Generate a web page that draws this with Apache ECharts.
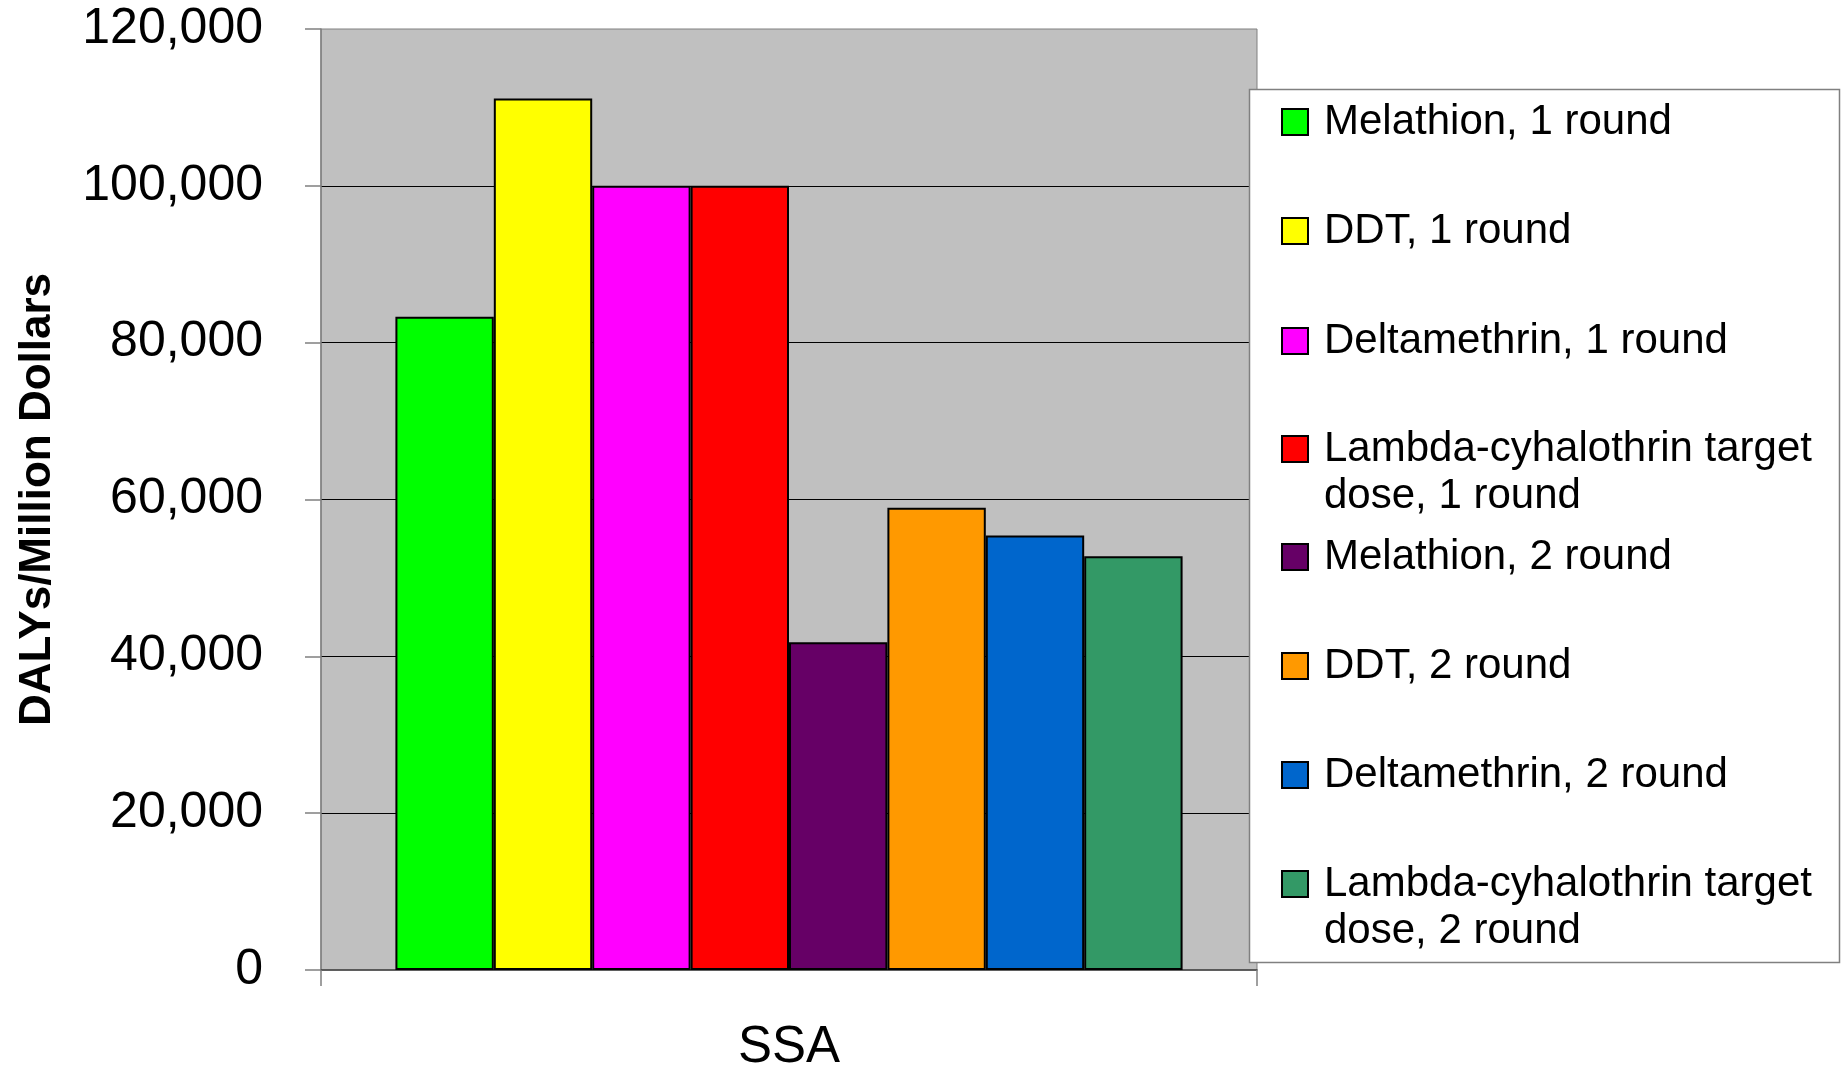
<!DOCTYPE html>
<html>
<head>
<meta charset="utf-8">
<script src="https://cdn.jsdelivr.net/npm/echarts@6/dist/echarts.min.js"></script>
<style>
html,body{margin:0;padding:0;background:#fff;}
#c{width:1843px;height:1068px;}
</style>
</head>
<body>
<div id="c"></div>
<script>
// ---- data ----
const categories = ['SSA'];
const seriesNames = [
  'Melathion, 1 round',
  'DDT, 1 round',
  'Deltamethrin, 1 round',
  'Lambda-cyhalothrin target\ndose, 1 round',
  'Melathion, 2 round',
  'DDT, 2 round',
  'Deltamethrin, 2 round',
  'Lambda-cyhalothrin target\ndose, 2 round'
];
const seriesValues = [83300, 111150, 100000, 100000, 41800, 58950, 55400, 52750];
const yTicks = [0, 20000, 40000, 60000, 80000, 100000, 120000];
const yAxisTitle = 'DALYs/Million Dollars';

// ---- styles ----
const colors = ['#00FF00', '#FFFF00', '#FF00FF', '#FF0000', '#660066', '#FF9900', '#0066CC', '#339966'];
const FONT = 'Arial, "Liberation Sans", sans-serif';
const legendCenters = [122, 231, 341, 449, 557, 666, 775, 884];

const chart = echarts.init(document.getElementById('c'), null, {renderer: 'canvas'});

const series = seriesNames.map((name, i) => ({
  name: name,
  type: 'bar',
  data: [seriesValues[i]],
  barGap: '0%',
  barCategoryGap: '15.9%',
  itemStyle: {color: colors[i], borderColor: '#000', borderWidth: 2},
  emphasis: {disabled: true},
  animation: false
}));

const legends = seriesNames.map((name, i) => {
  const wrapped = name.indexOf('\n') >= 0;
  return {
    show: true,
    orient: 'vertical',
    data: [name],
    left: 1281,
    top: wrapped ? legendCenters[i] - 70.5 : legendCenters[i] - 23.5,
    padding: 0,
    itemWidth: 26,
    itemHeight: 26,
    icon: 'rect',
    selectedMode: false,
    z: 20,
    formatter: wrapped ? (n => '\n' + n) : (n => n),
    itemStyle: {borderColor: '#000', borderWidth: 2},
    textStyle: {
      fontFamily: FONT,
      fontSize: 42,
      color: '#000',
      lineHeight: 47,
      padding: [0, 0, 0, 11]
    }
  };
});

const option = {
  animation: false,
  backgroundColor: '#ffffff',
  grid: {
    left: 321, top: 29, right: 586, bottom: 98,
    show: true,
    backgroundColor: '#C0C0C0',
    borderColor: '#808080',
    borderWidth: 1,
    containLabel: false,
    outerBoundsMode: 'none'
  },
  legend: legends,
  graphic: [{
    type: 'rect',
    z: 15,
    shape: {x: 1249.5, y: 89.5, width: 590, height: 873},
    style: {fill: '#fff', stroke: '#808080', lineWidth: 1.5}
  }],
  xAxis: {
    type: 'category',
    data: categories,
    axisLine: {show: true, lineStyle: {color: '#404040', width: 1.5}},
    axisTick: {show: true, length: 16, lineStyle: {color: '#808080', width: 1.5}},
    axisLabel: {fontFamily: FONT, fontSize: 51, color: '#000', margin: 52},
    splitLine: {show: false}
  },
  yAxis: {
    type: 'value',
    min: yTicks[0],
    max: yTicks[yTicks.length - 1],
    interval: yTicks[1] - yTicks[0],
    name: yAxisTitle,
    nameLocation: 'middle',
    nameGap: 261,
    nameTextStyle: {fontFamily: FONT, fontSize: 44, fontWeight: 'bold', color: '#000'},
    axisLine: {show: true, lineStyle: {color: '#808080', width: 1.5}},
    axisTick: {show: true, length: 16, lineStyle: {color: '#808080', width: 1.5}},
    axisLabel: {
      fontFamily: FONT, fontSize: 50, color: '#000', margin: 58,
      formatter: v => v.toLocaleString('en-US')
    },
    splitLine: {show: true, showMinLine: false, showMaxLine: false, lineStyle: {color: '#000', width: 1}}
  },
  series: series
};

chart.setOption(option);
</script>
</body>
</html>
